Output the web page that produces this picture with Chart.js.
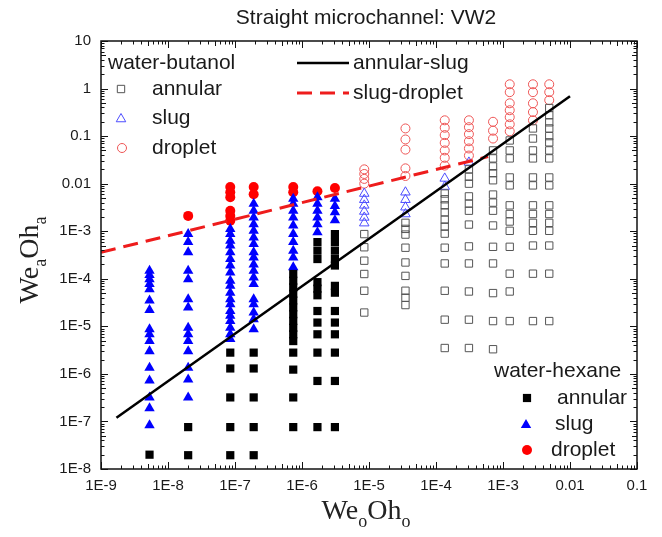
<!DOCTYPE html>
<html><head><meta charset="utf-8">
<script src="https://cdn.jsdelivr.net/npm/chart.js@4.4.1/dist/chart.umd.min.js"></script>
<style>html,body{margin:0;padding:0;background:#fff;}canvas{display:block;}</style>
</head><body>
<canvas id="c" width="662" height="537"></canvas>
<script>
// ---- tick labels ----
const xTickValues = [1e-9,1e-8,1e-7,1e-6,1e-5,1e-4,1e-3,1e-2,1e-1];
const xTickLabels = ['1E-9','1E-8','1E-7','1E-6','1E-5','1E-4','1E-3','0.01','0.1'];
const yTickValues = [1e-8,1e-7,1e-6,1e-5,1e-4,1e-3,1e-2,1e-1,1,10];
const yTickLabels = ['1E-8','1E-7','1E-6','1E-5','1E-4','1E-3','0.01','0.1','1','10'];

// ---- water-hexane (filled) : column x values and y values per column ----
const hexX = [5.3e-9, 2.0e-8, 8.5e-8, 1.9e-7, 7.4e-7, 1.7e-6, 3.1e-6];
const hexAnnular = [
  [2e-8],
  [7.6e-8, 1.95e-8],
  [2.8e-6, 1.3e-6, 3.2e-7, 7.6e-8, 1.95e-8],
  [2.8e-6, 1.3e-6, 3.2e-7, 7.6e-8, 1.95e-8],
  [1.26e-4, 9.1e-5, 6.6e-5, 4.8e-5, 3.5e-5, 2.5e-5, 1.8e-5, 1.3e-5, 9.3e-6, 6.8e-6, 4.9e-6, 2.8e-6, 1.23e-6, 3.2e-7, 7.6e-8],
  [5.9e-4, 3.9e-4, 2.6e-4, 8.5e-5, 6.2e-5, 4.5e-5, 2.1e-5, 1.2e-5, 6.8e-6, 2.8e-6, 7.1e-7, 7.6e-8],
  [8.7e-4, 5.9e-4, 3.9e-4, 2.6e-4, 1.9e-4, 7.1e-5, 5.1e-5, 2.1e-5, 1.2e-5, 6.8e-6, 2.8e-6, 7.1e-7, 7.6e-8]
];
const hexSlug = [
  [1.48e-4, 1.2e-4, 9.8e-5, 7.8e-5, 6e-5, 3.5e-5, 2.2e-5, 8.7e-6, 6.8e-6, 4.9e-6, 3e-6, 1.35e-6, 7.3e-7, 3.2e-7, 1.9e-7, 8.3e-8],
  [8.7e-4, 5.9e-4, 3.6e-4, 1.48e-4, 9.8e-5, 3.7e-5, 2.5e-5, 9.3e-6, 6.8e-6, 4.9e-6, 3e-6, 1.35e-6, 7.6e-7, 3.2e-7],
  [1.12e-3, 8.7e-4, 6.3e-4, 5e-4, 3.6e-4, 2.6e-4, 1.9e-4, 1.35e-4, 9.1e-5, 7.1e-5, 5.1e-5, 3.7e-5, 2.9e-5, 2.1e-5, 1.66e-5, 1.3e-5, 9.3e-6, 6.8e-6, 5.4e-6],
  [3.8e-3, 2.7e-3, 1.95e-3, 1.41e-3, 1.02e-3, 7.4e-4, 5.4e-4, 3.6e-4, 2.8e-4, 2e-4, 1.48e-4, 1.07e-4, 7.8e-5, 3.7e-5, 2.9e-5, 1.95e-5, 1.41e-5, 8.7e-6],
  [4.8e-3, 3.8e-3, 2.7e-3, 1.95e-3, 1.32e-3, 8.7e-4, 5.9e-4, 3.9e-4, 2.8e-4, 1.74e-4],
  [5.2e-3, 3.8e-3, 2.7e-3, 1.95e-3, 1.41e-3, 9.5e-4],
  [4.8e-3, 3.4e-3, 2.5e-3, 1.7e-3]
];
const hexDroplet = [
  [],
  [2.1e-3],
  [8.5e-3, 6.6e-3, 5.2e-3, 2.7e-3, 2.1e-3, 1.66e-3],
  [8.5e-3, 6e-3],
  [8.5e-3, 6.6e-3],
  [6.9e-3],
  [8.1e-3]
];

// ---- water-butanol (open) ----
const butX = [8.5e-6, 3.5e-5, 1.35e-4, 3.1e-4, 7.1e-4, 1.26e-3, 2.8e-3, 4.9e-3];
const butAnnular = [
  [8.7e-4, 4.6e-4, 2.4e-4, 1.26e-4, 5.6e-5, 1.95e-5],
  [1.5e-3, 1.12e-3, 8.5e-4, 4.5e-4, 2.2e-4, 1.15e-4, 5.6e-5, 4e-5, 2.8e-5],
  [6.2e-3, 4.7e-3, 3.5e-3, 2.5e-3, 1.75e-3, 1.25e-3, 8.9e-4, 4.5e-4, 2.1e-4, 5.6e-5, 1.38e-5, 3.5e-6],
  [0.020, 0.014, 0.010, 5.4e-3, 3.8e-3, 2.7e-3, 1.38e-3, 4.8e-4, 2.1e-4, 5.4e-5, 1.38e-5, 3.5e-6],
  [0.050, 0.034, 0.023, 0.0166, 0.0118, 5.9e-3, 4.0e-3, 2.7e-3, 1.32e-3, 4.7e-4, 2.1e-4, 5e-5, 1.29e-5, 3.3e-6],
  [0.081, 0.050, 0.034, 0.0135, 9.2e-3, 3.5e-3, 2.3e-3, 1.6e-3, 1.02e-3, 4.7e-4, 1.28e-4, 5.4e-5, 1.29e-5],
  [0.145, 0.089, 0.050, 0.034, 0.0135, 9.2e-3, 3.5e-3, 2.3e-3, 1.5e-3, 1.02e-3, 5e-4, 1.28e-4, 1.29e-5],
  [0.39, 0.275, 0.195, 0.145, 0.10, 0.074, 0.050, 0.034, 0.0135, 9.2e-3, 3.5e-3, 2.3e-3, 1.5e-3, 1.02e-3, 5e-4, 1.28e-4, 1.29e-5]
];
const butSlug = [
  [6.2e-3, 4.6e-3, 3.5e-3, 2.6e-3, 1.95e-3, 1.48e-3],
  [6.6e-3, 4.6e-3, 3.2e-3, 2.3e-3],
  [0.0129, 8.7e-3],
  [0.028],
  [], [], [], []
];
const butDroplet = [
  [0.020, 0.016, 0.0126, 0.010],
  [0.145, 0.085, 0.052, 0.021, 0.0145],
  [0.215, 0.15, 0.105, 0.072, 0.050, 0.035, 0.024],
  [0.215, 0.154, 0.11, 0.078, 0.055, 0.039],
  [0.2, 0.13, 0.089],
  [1.23, 0.84, 0.49, 0.35, 0.25, 0.177, 0.126],
  [1.23, 0.84, 0.49, 0.32, 0.215],
  [1.23, 0.84, 0.57]
];

// ---- transition lines ----
const annularSlugX = [1.7e-9, 0.01];
const annularSlugY = [1.2e-7, 0.69];
const slugDropletX = [1e-9, 6e-4];
const slugDropletY = [3.6e-4, 0.037];

function pts(xs, ys){ return xs.flatMap((x,i)=>ys[i].map(y=>({x:x,y:y}))); }
function linePts(xs, ys){ return xs.map((x,i)=>({x:x,y:ys[i]})); }

const SANS = '"Liberation Sans", Arial, sans-serif';
const SERIF = '"Liberation Serif", "Times New Roman", serif';

function drawMarker(ctx, type, x, y, r, fill, stroke, lw){
  ctx.save();
  ctx.beginPath();
  if (type==='rect'){ const s=Math.SQRT1_2*r; ctx.rect(x-s,y-s,2*s,2*s); }
  else if (type==='triangle'){
    let a=0; ctx.moveTo(x+Math.sin(a)*r, y-Math.cos(a)*r);
    a+=2*Math.PI/3; ctx.lineTo(x+Math.sin(a)*r, y-Math.cos(a)*r);
    a+=2*Math.PI/3; ctx.lineTo(x+Math.sin(a)*r, y-Math.cos(a)*r);
    ctx.closePath();
  } else { ctx.arc(x,y,r,0,Math.PI*2); }
  if (fill){ ctx.fillStyle=fill; ctx.fill(); }
  if (stroke){ ctx.strokeStyle=stroke; ctx.lineWidth=lw||1; ctx.stroke(); }
  ctx.restore();
}

function drawRich(ctx, parts, mainSize, subSize, subShift, cx, baseY){
  let w=0;
  parts.forEach(p=>{ ctx.font=(p.s?subSize:mainSize)+'px '+SERIF; w+=ctx.measureText(p.t).width; });
  let x=cx-w/2;
  ctx.textAlign='left'; ctx.textBaseline='alphabetic';
  parts.forEach(p=>{ ctx.font=(p.s?subSize:mainSize)+'px '+SERIF; ctx.fillText(p.t, x, baseY+(p.s?subShift:0)); x+=ctx.measureText(p.t).width; });
}

const decor = {
  id:'decor',
  afterDatasetsDraw(chart){
    const ctx=chart.ctx, a=chart.chartArea, xs=chart.scales.x, ys=chart.scales.y;
    ctx.save();
    ctx.strokeStyle='#111'; ctx.lineWidth=1.5;
    ctx.strokeRect(a.left, a.top, a.right-a.left, a.bottom-a.top);
    ctx.lineWidth=1;
    ctx.beginPath();
    for (let e=-9;e<=-1;e++) for (let m=1;m<=9;m++){
      const v=m*Math.pow(10,e); if (v>0.1*1.0001) continue;
      const px=Math.round(xs.getPixelForValue(v))+0.5;
      const len = m===1?7:(m===5?5:3.5);
      ctx.moveTo(px,a.bottom); ctx.lineTo(px,a.bottom-len);
      ctx.moveTo(px,a.top); ctx.lineTo(px,a.top+len);
    }
    for (let e=-8;e<=1;e++) for (let m=1;m<=9;m++){
      const v=m*Math.pow(10,e); if (v>10*1.0001) continue;
      const py=Math.round(ys.getPixelForValue(v))+0.5;
      const len = m===1?7:(m===5?5:3.5);
      ctx.moveTo(a.left,py); ctx.lineTo(a.left+len,py);
      ctx.moveTo(a.right,py); ctx.lineTo(a.right-len,py);
    }
    ctx.stroke();
    ctx.restore();
  },
  afterDraw(chart){
    const ctx=chart.ctx;
    ctx.save();
    ctx.fillStyle='#1a1a1a';
    // title
    ctx.font='21px '+SANS; ctx.textAlign='center'; ctx.textBaseline='middle';
    ctx.fillText('Straight microchannel: VW2', 366, 18);
    // legends
    ctx.textAlign='left';
    ctx.font='21px '+SANS;
    ctx.fillText('water-butanol', 108, 63);
    drawMarker(ctx,'rect',121,89,5.2,null,'#555',1);
    ctx.fillText('annular', 152, 89);
    drawMarker(ctx,'triangle',121,119,5.5,null,'#4d4dff',1);
    ctx.fillText('slug', 152, 118);
    drawMarker(ctx,'circle',122,148,4.5,null,'#ee5555',1);
    ctx.fillText('droplet', 152, 148);
    // line legends
    ctx.save();
    ctx.strokeStyle='#000'; ctx.lineWidth=2.5;
    ctx.beginPath(); ctx.moveTo(297,63); ctx.lineTo(349,63); ctx.stroke();
    ctx.strokeStyle='#ee1c1c'; ctx.lineWidth=3; ctx.setLineDash([15,8]);
    ctx.beginPath(); ctx.moveTo(297,93); ctx.lineTo(349,93); ctx.stroke();
    ctx.restore();
    ctx.fillText('annular-slug', 353, 63);
    ctx.fillText('slug-droplet', 353, 93);
    // water-hexane legend
    ctx.fillText('water-hexane', 494, 371);
    drawMarker(ctx,'rect',527,398,5.8,'#000',null);
    ctx.fillText('annular', 557, 398);
    drawMarker(ctx,'triangle',526,425,6,'#0000ff',null);
    ctx.fillText('slug', 555, 424);
    drawMarker(ctx,'circle',527,450,5,'#ff0000',null);
    ctx.fillText('droplet', 551, 450);
    // axis titles
    ctx.fillStyle='#222';
    drawRich(ctx,[{t:'We'},{t:'o',s:1},{t:'Oh'},{t:'o',s:1}],28,18,8,366,519);
    ctx.save();
    ctx.translate(38,260); ctx.rotate(-Math.PI/2);
    drawRich(ctx,[{t:'We'},{t:'a',s:1},{t:'Oh'},{t:'a',s:1}],28,18,8,0,0);
    ctx.restore();
    ctx.restore();
  }
};

function tickCfg(values, labels){
  return {
    autoSkip:false, maxRotation:0, minRotation:0,
    font:{family:SANS, size:15}, color:'#1a1a1a',
    callback:(v)=>{ const i=values.findIndex(t=>Math.abs(Math.log10(t)-Math.log10(v))<1e-6); return i>=0?labels[i]:''; }
  };
}

new Chart(document.getElementById('c'), {
  type:'scatter',
  data:{ datasets:[
    { type:'line', data:linePts(annularSlugX, annularSlugY), borderColor:'#000', borderWidth:2.5, pointRadius:0, fill:false, tension:0, order:0 },
    { type:'line', data:linePts(slugDropletX, slugDropletY), borderColor:'#ee1c1c', borderWidth:3, borderDash:[15,8], pointRadius:0, fill:false, tension:0, order:0 },
    { data:pts(hexX, hexAnnular), pointStyle:'rect', pointRadius:5.8, backgroundColor:'#000', borderWidth:0, order:2 },
    { data:pts(hexX, hexSlug), pointStyle:'triangle', pointRadius:6, backgroundColor:'#0000ff', borderWidth:0, order:2 },
    { data:pts(hexX, hexDroplet), pointStyle:'circle', pointRadius:5, backgroundColor:'#ff0000', borderWidth:0, order:2 },
    { data:pts(butX, butAnnular), pointStyle:'rect', pointRadius:5.2, backgroundColor:'rgba(0,0,0,0)', borderColor:'#555', borderWidth:1, order:2 },
    { data:pts(butX, butSlug), pointStyle:'triangle', pointRadius:5.5, backgroundColor:'rgba(0,0,0,0)', borderColor:'#4d4dff', borderWidth:1, order:2 },
    { data:pts(butX, butDroplet), pointStyle:'circle', pointRadius:4.5, backgroundColor:'rgba(0,0,0,0)', borderColor:'#ee5555', borderWidth:1, order:2 }
  ]},
  options:{
    responsive:false, animation:false, devicePixelRatio:1,
    layout:{ padding:{ top:41, right:25, left:0, bottom:0 } },
    plugins:{ legend:{display:false}, tooltip:{enabled:false}, title:{display:false} },
    scales:{
      x:{ type:'logarithmic', min:1e-9, max:0.1, position:'bottom',
          grid:{display:false, drawTicks:false}, border:{display:false},
          ticks:Object.assign(tickCfg(xTickValues,xTickLabels),{padding:8}),
          afterBuildTicks:(s)=>{ s.ticks = xTickValues.map(v=>({value:v, major:true})); },
          afterFit:(s)=>{ s.height = 68; } },
      y:{ type:'logarithmic', min:1e-8, max:10, position:'left',
          grid:{display:false, drawTicks:false}, border:{display:false},
          ticks:Object.assign(tickCfg(yTickValues,yTickLabels),{padding:10}),
          afterBuildTicks:(s)=>{ s.ticks = yTickValues.map(v=>({value:v, major:true})); },
          afterFit:(s)=>{ s.width = 101; } }
    }
  },
  plugins:[decor]
});
</script>
</body></html>
